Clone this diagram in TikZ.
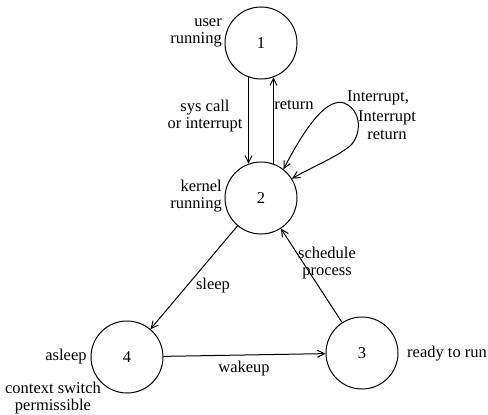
\documentclass[tikz,border=0pt]{standalone}
\usepackage{fontspec}
\setmainfont{Liberation Serif}
\usetikzlibrary{arrows.meta}
\begin{document}
\begin{tikzpicture}[x=1pt,y=-1pt,
  state/.style={circle,draw,line width=1pt,minimum size=72pt,inner sep=0pt,font=\fontsize{16.5}{18}\selectfont},
  lbl/.style={inner sep=0pt,align=center,font=\fontsize{16.5}{17.5}\selectfont},
  edge/.style={line width=1pt,-{Straight Barb[length=7pt,width=7pt,line width=1pt]}},
  >={Straight Barb[length=7pt,width=7pt,line width=1pt]}]
  \useasboundingbox (0,0) rectangle (488,415);
  % states
  \node[state] (n1) at (261,43) {1};
  \node[state] (n2) at (261,198) {2};
  \node[state] (n3) at (362,353) {3};
  \node[state] (n4) at (127,357) {4};
  % state descriptions
  \node[lbl,anchor=east,align=right] (u1) at (222,33) {user\\running};
  \node[lbl,anchor=east,align=right] (k2) at (222,196) {kernel\\running};
  \node[lbl,anchor=west] (r3) at (407,354) {ready to run};
  \node[lbl] (a4) at (66,357) {asleep};
  \node[lbl] (c4) at (53,398) {context switch\\permissible};
  % transitions
  \draw[edge] (n1.250) -- (n2.110);
  \draw[edge] (n2.70) -- (n1.290);
  \draw[line width=1pt,<->] (n2.52) .. controls (308,122) and (328,98) .. (344,103)
      .. controls (362,110) and (362,135) .. (350,146)
      .. controls (335,158) and (310,168) .. (n2.32);
  \draw[edge] (n2) -- (n4);
  \draw[edge] (n3) -- (n2);
  \draw[edge] (n4) -- (n3);
  % transition labels
  \node[lbl] (t1) at (205,116) {sys call\\or interrupt};
  \node[lbl] (t2) at (294,105) {return};
  \node[lbl] (t3) at (378,98) {Interrupt,};
  \node[lbl] (t4) at (387,125) {Interrupt\\return};
  \node[lbl] (t5) at (213,286) {sleep};
  \node[lbl] (t6) at (327,263) {schedule\\process};
  \node[lbl] (t7) at (244,369) {wakeup};
\end{tikzpicture}
\end{document}
